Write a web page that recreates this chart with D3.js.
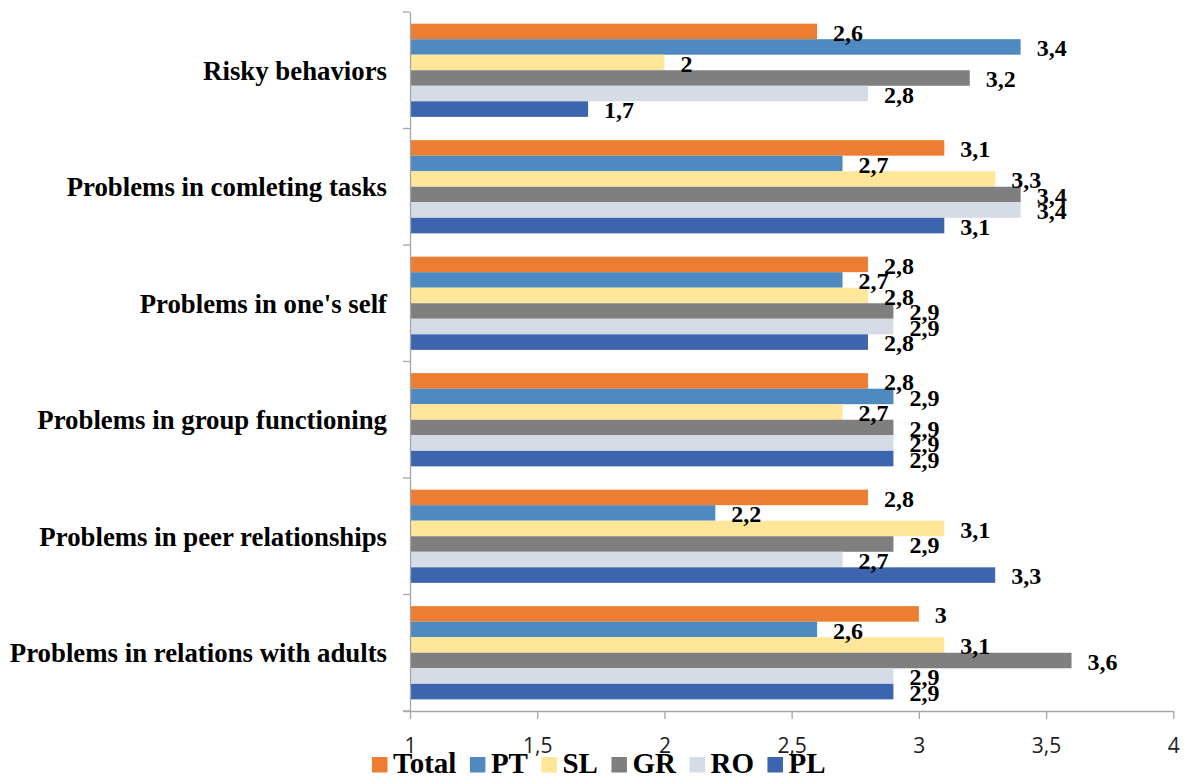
<!DOCTYPE html>
<html><head><meta charset="utf-8">
<script src="https://cdn.jsdelivr.net/npm/d3@7"></script>
<style>body{margin:0;background:#fff}svg{display:block}</style>
</head><body>
<svg id="c" width="1185" height="776"></svg>
<script>
const categories = ["Risky behaviors","Problems in comleting tasks","Problems in one's self","Problems in group functioning","Problems in peer relationships","Problems in relations with adults"];
const seriesNames = ["Total","PT","SL","GR","RO","PL"];
const seriesColors = ["#ED7D31","#4E8AC0","#FFE699","#7F7F7F","#D6DCE5","#3D64AE"];
const Total = [2.6,3.1,2.8,2.8,2.8,3.0];
const PT    = [3.4,2.7,2.7,2.9,2.2,2.6];
const SL    = [2.0,3.3,2.8,2.7,3.1,3.1];
const GR    = [3.2,3.4,2.9,2.9,2.9,3.6];
const RO    = [2.8,3.4,2.9,2.9,2.7,2.9];
const PL    = [1.7,3.1,2.8,2.9,3.3,2.9];
const seriesValues = [Total,PT,SL,GR,RO,PL];
const xTicks = [1,1.5,2,2.5,3,3.5,4];

const fmt = v => String(v).replace(".", ",");
const svg = d3.select("#c");
const pLeft = 410, pRight = 1173.3, pTop = 12, pBottom = 711;

const x = d3.scaleLinear().domain([1,4]).range([pLeft,pRight]);
const y0 = d3.scaleBand().domain(categories).range([pTop,pBottom]).padding(0);
const bw = y0.bandwidth();
const y1 = d3.scaleBand().domain(seriesNames).range([bw*0.1, bw*0.9]).padding(0);

const axisColor = "#A6A6A6";

// bars
const g = svg.append("g");
categories.forEach((cat, ci) => {
  const cg = g.append("g").attr("transform", `translate(0,${y0(cat)})`);
  seriesNames.forEach((s, si) => {
    const v = seriesValues[si][ci];
    cg.append("rect")
      .attr("x", x(1)).attr("y", y1(s))
      .attr("width", x(v) - x(1)).attr("height", y1.bandwidth())
      .attr("fill", seriesColors[si]);
  });
});
// labels
categories.forEach((cat, ci) => {
  seriesNames.forEach((s, si) => {
    const v = seriesValues[si][ci];
    svg.append("text")
      .attr("x", x(v) + 16)
      .attr("y", y0(cat) + y1(s) + y1.bandwidth() + 1.5)
      .attr("font-family", "'Liberation Serif','Times New Roman',serif")
      .attr("font-weight", "bold").attr("font-size", 24)
      .attr("fill", "#000")
      .text(fmt(v));
  });
});

// y axis
const ya = svg.append("g").attr("transform", `translate(${pLeft},0)`)
  .call(d3.axisLeft(y0).tickSize(0).tickFormat(""));
ya.select(".domain").attr("stroke", axisColor).attr("stroke-width", 1.3);
const bounds = categories.map(c => y0(c)).concat([pBottom]);
svg.append("g").selectAll("line").data(bounds).join("line")
  .attr("x1", pLeft-7).attr("x2", pLeft).attr("y1", d=>d).attr("y2", d=>d)
  .attr("stroke", axisColor).attr("stroke-width", 1.3);
svg.append("g").selectAll("text").data(categories).join("text")
  .attr("x", 387).attr("y", d => y0(d) + bw/2).attr("dy", "0.35em")
  .attr("text-anchor", "end")
  .attr("font-family", "'Liberation Serif','Times New Roman',serif")
  .attr("font-weight", "bold").attr("font-size", 26.8).attr("fill", "#000")
  .text(d => d);

// x axis
const xa = svg.append("g").attr("transform", `translate(0,${pBottom})`)
  .call(d3.axisBottom(x).tickValues(xTicks).tickSize(8).tickSizeOuter(0).tickFormat(fmt));
xa.select(".domain").attr("stroke", axisColor).attr("stroke-width", 1.3)
  .attr("d", `M${pLeft-7},0.5H${pRight}`);
xa.selectAll(".tick line").attr("stroke", axisColor).attr("stroke-width", 1.3);
xa.selectAll(".tick text").attr("y", 42).attr("dy", 0)
  .attr("font-family", "'Open Sans',Carlito,Calibri,sans-serif")
  .attr("font-size", 21).attr("fill", "#222");

// legend
const lg = svg.append("g");
let lx = 372;
const lyBase = 772.5;
seriesNames.forEach((s, si) => {
  lg.append("rect").attr("x", lx).attr("y", lyBase-15.5).attr("width", 15.5).attr("height", 15.5)
    .attr("fill", seriesColors[si]);
  const t = lg.append("text").attr("x", lx + 21).attr("y", lyBase)
    .attr("font-family", "'Liberation Serif','Times New Roman',serif")
    .attr("font-weight", "bold").attr("font-size", 29).attr("fill", "#000")
    .text(s);
  lx += 21 + t.node().getComputedTextLength() + 13.5;
});
</script>
</body></html>
